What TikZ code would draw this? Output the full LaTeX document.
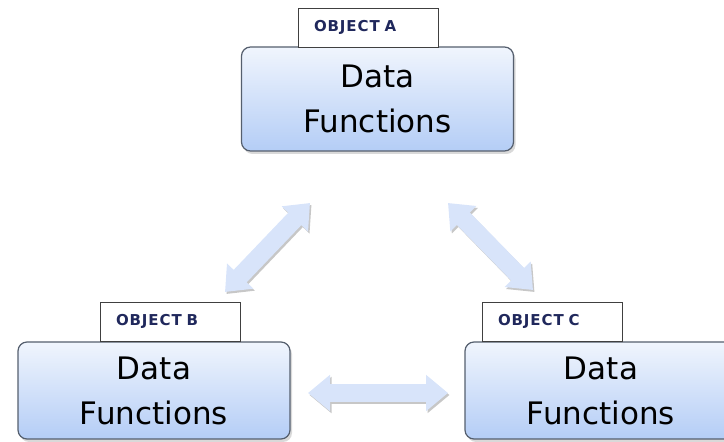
\documentclass[tikz,border=0pt]{standalone}
\usepackage{fontspec}
\setmainfont{DejaVu Sans}
\newfontfamily\tagfont[LetterSpace=6]{DejaVu Sans}
\usetikzlibrary{arrows.meta,shadows}
\definecolor{boxtop}{RGB}{240,245,253}
\definecolor{boxbot}{RGB}{180,205,246}
\definecolor{boxline}{RGB}{85,95,110}
\definecolor{tagtext}{RGB}{32,40,92}
\definecolor{arrowfill}{RGB}{216,228,250}

\begin{document}
\begin{tikzpicture}[x=1pt, y=1pt,
    object box/.style={rounded corners=9pt, draw=boxline, line width=1.2pt, top color=boxtop, bottom color=boxbot,
      minimum width=272pt, align=center, font=\fontsize{31}{45}\selectfont,
      drop shadow={opacity=0.3, shadow xshift=2pt, shadow yshift=-3pt}},
    object tag/.style={draw=black!75, fill=white, line width=0.8pt, minimum width=140pt, minimum height=39pt,
      text width=108pt, align=left, font=\tagfont\fontsize{15}{15}\selectfont\bfseries\color{tagtext}},
    link/.style={line width=18pt, draw=arrowfill, {Triangle[width=35pt,length=22pt]}-{Triangle[width=35pt,length=22pt]}},
    link shadow/.style={link, draw=black!22}
  ]
  \path[use as bounding box, clip] (0,0) rectangle (724,442);

  % arrow end points
  \coordinate (ab) at (225,150);
  \coordinate (at) at (310,239);
  \coordinate (ct) at (448,239);
  \coordinate (cb) at (533,152);
  \coordinate (bl) at (308,49);
  \coordinate (br) at (448,49);

  % objects
  \node[object box, minimum height=104pt] (boxa) at (377.5,343) {Data\\Functions};
  \node[object box, minimum height=97pt, yshift=-3pt] (boxb) at (154,54.5) {Data\\Functions};
  \node[object box, minimum height=97pt, yshift=-3pt] (boxc) at (601,54.5) {Data\\Functions};

  \node[object tag] (taga) at (368,414.5) {OBJECT A};
  \node[object tag] (tagb) at (170,120.5) {OBJECT B};
  \node[object tag] (tagc) at (552,120.5) {OBJECT C};

  % links
  \foreach \from/\to in {ab/at, ct/cb, bl/br} {
    \draw[link shadow] ([shift={(1.5,-2)}]\from) -- ([shift={(1.5,-2)}]\to);
    \draw[link] (\from) -- (\to);
  }
\end{tikzpicture}
\end{document}
